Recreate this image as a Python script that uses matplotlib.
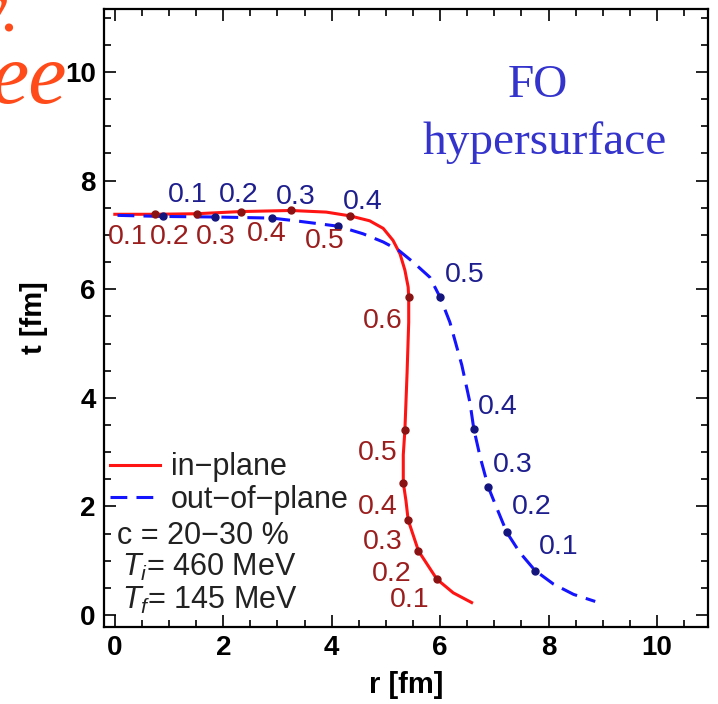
import matplotlib
matplotlib.use("Agg")
import matplotlib.pyplot as plt

plt.rcParams['font.family'] = ['Liberation Sans', 'DejaVu Sans']
plt.rcParams['mathtext.fontset'] = 'custom'
plt.rcParams['mathtext.rm'] = 'Liberation Sans'
plt.rcParams['mathtext.it'] = 'Liberation Sans:italic'

# in-plane curve (red)
r_in = [0.0, 0.74, 1.51, 2.32, 3.25, 3.90, 4.34, 4.70, 4.95, 5.13, 5.26, 5.35, 5.41, 5.42,
        5.42, 5.39, 5.35, 5.32, 5.32, 5.37, 5.41, 5.60, 5.94, 6.24, 6.58]
t_in = [7.38, 7.38, 7.39, 7.43, 7.45, 7.42, 7.35, 7.26, 7.12, 6.90, 6.65, 6.35, 6.04, 5.85,
        5.39, 4.46, 3.41, 2.95, 2.44, 2.10, 1.75, 1.18, 0.66, 0.41, 0.23]
# out-of-plane curve (blue)
r_out = [0.05, 0.89, 1.85, 2.90, 3.41, 4.12, 4.58, 4.95, 5.23, 5.50, 5.81, 6.00, 6.18,
         6.40, 6.55, 6.62, 6.74, 6.89, 7.04, 7.23, 7.47, 7.75, 8.09, 8.46, 8.86]
t_out = [7.36, 7.34, 7.33, 7.31, 7.25, 7.16, 7.02, 6.87, 6.72, 6.50, 6.22, 5.85, 5.39,
         4.60, 3.91, 3.43, 2.90, 2.35, 1.98, 1.52, 1.15, 0.82, 0.57, 0.38, 0.25]

# marked points and their values
r_in_pts = [0.74, 1.51, 2.32, 3.25, 4.34, 5.42, 5.35, 5.32, 5.41, 5.60, 5.94]
t_in_pts = [7.38, 7.38, 7.43, 7.45, 7.35, 5.85, 3.41, 2.44, 1.75, 1.18, 0.66]
lab_in = ['0.1', '0.2', '0.3', '0.4', '0.5', '0.6', '0.5', '0.4', '0.3', '0.2', '0.1']

r_out_pts = [0.89, 1.85, 2.90, 4.12, 6.00, 6.62, 6.89, 7.23, 7.75]
t_out_pts = [7.34, 7.33, 7.31, 7.16, 5.85, 3.43, 2.35, 1.52, 0.82]
lab_out = ['0.1', '0.2', '0.3', '0.4', '0.5', '0.4', '0.3', '0.2', '0.1']

# where the value labels sit
pos_in = [(0.24, 6.96), (1.01, 6.96), (1.86, 6.96), (2.80, 7.01), (3.87, 6.89), (4.94, 5.41),
          (4.85, 2.99), (4.85, 1.99), (4.94, 1.35), (5.11, 0.76), (5.44, 0.28)]
pos_out = [(1.35, 7.73), (2.29, 7.73), (3.34, 7.69), (4.58, 7.60), (6.46, 6.27),
           (7.07, 3.84), (7.34, 2.77), (7.69, 1.99), (8.19, 1.25)]

fig = plt.figure(figsize=(7.18, 7.04), dpi=100)
ax = fig.add_axes([0.1448, 0.1094, 0.8413, 0.8778])

ax.plot(r_in, t_in, color='#ff1414', lw=2.2, label='in\u2212plane')
ax.plot(r_out, t_out, color='#1414ff', lw=2.2, dashes=(5.5, 3), label='out\u2212of\u2212plane')
ax.plot(r_in_pts, t_in_pts, 'o', color='#8b1212', ms=5, zorder=3)
ax.plot(r_out_pts, t_out_pts, 'o', color='#14147e', ms=5, zorder=3)

for s, (x, y) in zip(lab_in, pos_in):
    ax.text(x, y, s, color='#9a1e1e', fontsize=20.5, ha='center', va='center')
for s, (x, y) in zip(lab_out, pos_out):
    ax.text(x, y, s, color='#1e1e8e', fontsize=20.5, ha='center', va='center')

ax.set_xlim(-0.2, 10.94)
ax.set_ylim(-0.22, 11.16)
ax.set_xticks([0, 2, 4, 6, 8, 10])
ax.set_yticks([0, 2, 4, 6, 8, 10])
ax.set_xticks([i * 0.5 for i in range(22)], minor=True)
ax.set_yticks([i * 0.5 for i in range(23)], minor=True)
ax.tick_params(which='both', direction='in', top=True, right=True, width=1.2, labelsize=20, pad=6)
ax.tick_params(which='major', length=8.5)
ax.tick_params(which='minor', length=5)
for lab in ax.get_xticklabels() + ax.get_yticklabels():
    lab.set_fontweight('bold')
for sp in ax.spines.values():
    sp.set_linewidth(1.6)

ax.set_xlabel('r [fm]', fontsize=21, fontweight='bold', labelpad=7)
ax.set_ylabel('t [fm]', fontsize=21, fontweight='bold', labelpad=12)

leg = ax.legend(loc='lower left', bbox_to_anchor=(0.0, 0.172), frameon=False, fontsize=22,
                handlelength=1.65, handletextpad=0.33, labelspacing=0.07, borderpad=0,
                borderaxespad=0.2)
for t in leg.get_texts():
    t.set_color('#222222')

ax.text(0.022, 0.148, 'c = 20\u221230 %', transform=ax.transAxes, fontsize=22,
        color='#222222', va='center')
ax.text(0.03, 0.097, r'$T_i$= 460 MeV', transform=ax.transAxes, fontsize=22,
        color='#222222', va='center')
ax.text(0.03, 0.043, r'$T_f$= 145 MeV', transform=ax.transAxes, fontsize=22,
        color='#222222', va='center')

ax.text(0.719, 0.858, 'FO', transform=ax.transAxes, fontsize=34, color='#3434cc',
        family='Liberation Serif', ha='center', va='baseline')
ax.text(0.729, 0.765, 'hypersurface', transform=ax.transAxes, fontsize=34, color='#3434cc',
        family='Liberation Serif', ha='center', va='baseline')

# cut-off handwriting from the slide
fig.text(20 / 718, 1 - 31 / 704, 'y.', fontsize=50, color='#ff4a1a', style='italic',
         family='Liberation Serif', ha='right', va='baseline')
fig.text(-10 / 718, 1 - 103 / 704, 'ee', fontsize=62, color='#ff4a1a', style='italic',
         family='Liberation Serif', ha='left', va='baseline')

fig.savefig('out.png', dpi=100)
